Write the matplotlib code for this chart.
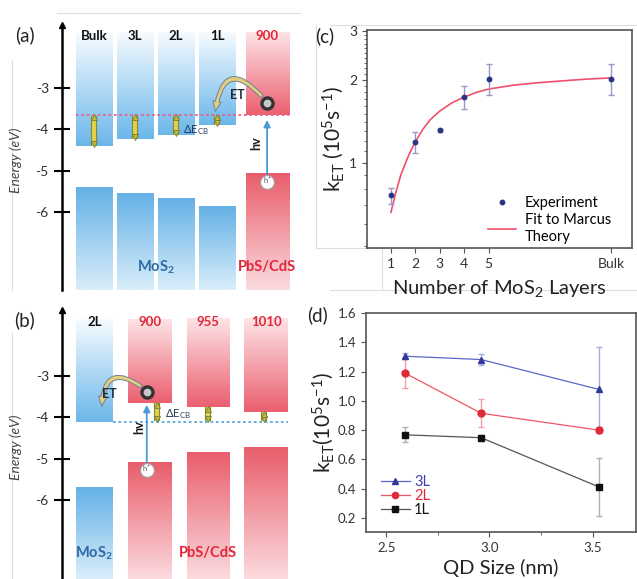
import numpy as np
import matplotlib
matplotlib.use('Agg')
import matplotlib.pyplot as plt
from matplotlib.colors import LinearSegmentedColormap
from matplotlib.patches import FancyArrowPatch
from matplotlib.lines import Line2D

plt.rcParams['font.family'] = ['Lato', 'DejaVu Sans']
plt.rcParams['mathtext.fontset'] = 'custom'
plt.rcParams['mathtext.rm'] = 'Lato'
plt.rcParams['mathtext.it'] = 'Lato:italic'
plt.rcParams['mathtext.bf'] = 'Lato:bold'
plt.rcParams['mathtext.default'] = 'regular'

# ---- band alignment data (eV) ----
a_labels = ['Bulk', '3L', '2L', '1L', '900']
a_pos = [0, 1, 2, 3, 4.22]
a_width = [0.88, 0.88, 0.88, 0.9, 1.05]
a_cb = [-4.40, -4.24, -4.14, -3.90, -3.65]
a_vb = [-5.42, -5.55, -5.68, -5.87, -5.07]
a_kind = ['mos2', 'mos2', 'mos2', 'mos2', 'qd']

b_labels = ['2L', '900', '955', '1010']
b_pos = [0, 1.35, 2.78, 4.2]
b_width = [0.9, 1.07, 1.05, 1.07]
b_cb = [-4.10, -3.65, -3.75, -3.88]
b_vb = [-5.70, -5.10, -4.85, -4.72]
b_kind = ['mos2', 'qd', 'qd', 'qd']

# ---- rate vs layer number ----
layers = [1, 2, 3, 4, 5, 10]
layer_ticks = ['1', '2', '3', '4', '5', 'Bulk']
k_layers = [0.76, 1.185, 1.31, 1.73, 2.02, 2.02]
k_layers_err = [0.05, 0.105, 0.02, 0.165, 0.26, 0.26]
fit_x = [1.0, 1.2, 1.4, 1.6, 1.8, 2.0, 2.3, 2.6, 3.0, 3.5, 4.0, 4.5, 5.0, 6.0, 7.0, 8.0, 9.0, 10.0]
fit_k = [0.66, 0.78, 0.90, 1.00, 1.10, 1.19, 1.32, 1.43, 1.54, 1.65, 1.73, 1.80, 1.85, 1.91, 1.95, 1.98, 2.01, 2.03]

# ---- rate vs QD size ----
qd_size = [2.59, 2.96, 3.53]
k_3L = [1.305, 1.282, 1.078]
k_3L_err = [0.02, 0.035, 0.29]
k_2L = [1.19, 0.915, 0.80]
k_2L_err = [0.10, 0.095, 0.02]
k_1L = [0.768, 0.748, 0.412]
k_1L_err = [0.05, 0.02, 0.20]

W, H = 637, 579
fig = plt.figure(figsize=(W / 100, H / 100), dpi=100)


def box(l, t, r, b):
    return [l / W, 1 - b / H, (r - l) / W, (b - t) / H]


BLUE_CB = ('#6cb7ea', '#f6fbff')
BLUE_VB = ('#d9edfa', '#64b1e6')
RED_CB = ('#eb6070', '#fde3e6')
RED_VB = ('#fbdade', '#e95e6c')
RED_TXT = '#e0283a'
BLUE_TXT = '#2c6aa8'


def grad_bar(ax, x, w, y0, y1, c_bottom, c_top):
    cmap = LinearSegmentedColormap.from_list('g', [c_bottom, c_top])
    g = np.linspace(0, 1, 64).reshape(-1, 1)
    ax.imshow(g, cmap=cmap, origin='lower', aspect='auto', interpolation='bilinear',
              extent=[x - w / 2, x + w / 2, y0, y1], zorder=1)


def dbl_arrow(ax, x, y0, y1):
    ax.plot([x, x], [y0, y1], color='#7d8a3a', lw=4.4, solid_capstyle='butt', zorder=4)
    ax.plot([x, x], [y0, y1], color='#e6d048', lw=2.8, solid_capstyle='butt', zorder=5)
    lo, hi = min(y0, y1), max(y0, y1)
    ax.plot(x, lo + 0.04, marker='v', ms=5, color='#c8b838', mec='#6f7f3a', mew=0.6, zorder=6)
    ax.plot(x, hi - 0.04, marker='^', ms=5, color='#c8b838', mec='#6f7f3a', mew=0.6, zorder=6)


def electron(ax, x, y):
    ax.plot(x, y, 'o', ms=8, mfc='#c8c8c8', mec='#333333', mew=2.4, zorder=8)


def hole(ax, x, y):
    ax.plot(x, y, 'o', ms=10, mfc='white', mec='#a0a0a0', mew=0.8, zorder=8)
    ax.text(x, y, 'h$^{+}$', fontsize=5.5, ha='center', va='center', color='#555', zorder=9)


def energy_axis(ax, ylim, xlim, label):
    ax.set_xlim(*xlim)
    ax.set_ylim(*ylim)
    for s in ['top', 'right', 'bottom']:
        ax.spines[s].set_visible(False)
    ax.spines['left'].set_linewidth(1.8)
    ax.set_xticks([])
    ax.set_yticks([-3, -4, -5, -6])
    ax.set_yticklabels(['-3', '-4', '-5', '-6'])
    ax.tick_params(axis='y', direction='inout', length=11, width=1.5, labelsize=10,
                   labelcolor='#333', pad=4)
    ax.plot(0, 1.0, marker='^', ms=5, color='k', transform=ax.transAxes, clip_on=False)
    ax.set_ylabel('Energy (eV)', style='italic', fontsize=10, color='#444')
    ax.yaxis.set_label_coords(-0.17, 0.49)
    ax.text(-0.16, ylim[1] - 0.25, label, fontsize=13.5, ha='center', va='center',
            color='#222', transform=ax.get_yaxis_transform())
    ax.patch.set_alpha(0)


def draw_bands(ax, labels, pos, widths, cb, vb, kind, ylim, bar_top):
    for lab, x, w, c, v, k in zip(labels, pos, widths, cb, vb, kind):
        if k == 'mos2':
            grad_bar(ax, x, w, c, bar_top, *BLUE_CB)
            grad_bar(ax, x, w, ylim[0], v, *BLUE_VB)
            col = '#111'
        else:
            grad_bar(ax, x, w, c, bar_top, *RED_CB)
            grad_bar(ax, x, w, ylim[0], v, *RED_VB)
            col = RED_TXT
        ax.text(x, bar_top - 0.08, lab, ha='center', va='center', fontsize=9.5,
                fontweight='bold', color=col, zorder=7)


ARC_STYLE = 'simple,head_width=6,head_length=7,tail_width=2.6'

# ================= (a) =================
ax_a = fig.add_axes(box(62, 25, 295, 290))
ylim_a = (-7.89, -1.48)
energy_axis(ax_a, ylim_a, (-0.78, 4.9), '(a)')
draw_bands(ax_a, a_labels, a_pos, a_width, a_cb, a_vb, a_kind, ylim_a, -1.66)
qd_cb = a_cb[-1]
ax_a.plot([a_pos[0] - a_width[0] / 2, a_pos[-1] + a_width[-1] / 2], [qd_cb, qd_cb],
          ls=(0, (1.5, 1.5)), color='#e8628c', lw=1.3, zorder=3)
for x, c in zip(a_pos[:4], a_cb[:4]):
    dbl_arrow(ax_a, x, qd_cb - 0.02, c)
ax_a.text(2.17, -4.02, 'ΔE$_{CB}$', fontsize=8, color='#2b3b5a', ha='left', va='center', zorder=7)
ex, ey = a_pos[-1], qd_cb + 0.29
electron(ax_a, ex, ey)
ax_a.add_patch(FancyArrowPatch((ex - 0.08, ey + 0.1), (a_pos[3] - 0.05, qd_cb + 0.02),
                               connectionstyle='arc3,rad=1.1', arrowstyle=ARC_STYLE,
                               fc='#e3d07c', ec='#6f7f9a', lw=0.7, zorder=7))
ax_a.text(3.5, -3.17, 'ET', fontsize=9, fontweight='bold', color='#1f2a3a', ha='center',
          va='center', zorder=8)
hy = a_vb[-1] - 0.2
hole(ax_a, ex, hy)
ax_a.annotate('', xy=(ex, qd_cb - 0.06), xytext=(ex, hy + 0.12),
              arrowprops=dict(arrowstyle='-|>,head_length=0.4,head_width=0.2',
                              color='#4a9ad8', lw=1.3), zorder=7)
ax_a.text(3.95, -4.33, 'hv', rotation=90, fontsize=9, fontweight='bold', ha='center',
          va='center', color='#1a1a1a', zorder=8)
ax_a.text(1.5, -7.33, 'MoS$_2$', fontsize=10.5, fontweight='bold', color=BLUE_TXT,
          ha='center', va='center', zorder=8)
ax_a.text(a_pos[-1], -7.33, 'PbS/CdS', fontsize=10.5, fontweight='bold', color=RED_TXT,
          ha='center', va='center', zorder=8)

# ================= (b) =================
ax_b = fig.add_axes(box(62, 310, 295, 579))
ylim_b = (-7.91, -1.40)
energy_axis(ax_b, ylim_b, (-0.79, 4.9), '(b)')
draw_bands(ax_b, b_labels, b_pos, b_width, b_cb, b_vb, b_kind, ylim_b, -1.62)
mos_cb = b_cb[0]
ax_b.plot([b_pos[0] + b_width[0] / 2, b_pos[-1] + b_width[-1] / 2], [mos_cb, mos_cb],
          ls=(0, (1.5, 1.5)), color='#5aaad8', lw=1.3, zorder=3)
for x, c in zip([b_pos[1] + 0.18, b_pos[2], b_pos[3] - 0.05], b_cb[1:]):
    dbl_arrow(ax_b, x, mos_cb + 0.02, c)
ax_b.text(1.72, -3.93, 'ΔE$_{CB}$', fontsize=8, color='#2b3b5a', ha='left', va='center', zorder=7)
ex, ey = b_pos[1] - 0.07, b_cb[1] + 0.26
electron(ax_b, ex, ey)
ax_b.add_patch(FancyArrowPatch((ex - 0.08, ey + 0.1), (b_pos[0] + 0.18, b_cb[0] + 0.3),
                               connectionstyle='arc3,rad=0.95', arrowstyle=ARC_STYLE,
                               fc='#e3d07c', ec='#6f7f9a', lw=0.7, zorder=7))
ax_b.text(0.37, -3.43, 'ET', fontsize=9, fontweight='bold', color='#1f2a3a', ha='center',
          va='center', zorder=8)
hy = b_vb[1] - 0.17
hole(ax_b, ex, hy)
ax_b.annotate('', xy=(ex, b_cb[1] + 0.02), xytext=(ex, hy + 0.12),
              arrowprops=dict(arrowstyle='-|>,head_length=0.4,head_width=0.2',
                              color='#4a9ad8', lw=1.3), zorder=7)
ax_b.text(1.1, -4.23, 'hv', rotation=90, fontsize=9, fontweight='bold', ha='center',
          va='center', color='#1a1a1a', zorder=8)
ax_b.text(b_pos[0], -7.28, 'MoS$_2$', fontsize=10.5, fontweight='bold', color=BLUE_TXT,
          ha='center', va='center', zorder=8)
ax_b.text(b_pos[2], -7.28, 'PbS/CdS', fontsize=10.5, fontweight='bold', color=RED_TXT,
          ha='center', va='center', zorder=8)

# ================= (c) =================
ax_c = fig.add_axes(box(367, 30, 632, 248))
ax_c.set_yscale('log')
ax_c.plot(fit_x, fit_k, color='#f0506a', lw=1.2, zorder=2)
ax_c.errorbar(layers, k_layers, yerr=k_layers_err, fmt='o', ms=3.2, color='#2b3585',
              ecolor='#9a98c8', elinewidth=1, capsize=2, zorder=3)
ax_c.set_xlim(0.02, 10.86)
ax_c.set_ylim(0.49, 3.03)
ax_c.set_xticks(layers)
ax_c.set_xticklabels(layer_ticks)
ax_c.set_yticks([1, 2, 3])
ax_c.set_yticklabels(['1', '2', '3'])
ax_c.set_yticks(np.round(np.arange(0.5, 3.0, 0.1), 2), minor=True)
ax_c.yaxis.set_minor_formatter(plt.NullFormatter())
ax_c.tick_params(which='both', direction='out', labelsize=10, labelcolor='#333', color='#555')
ax_c.tick_params(which='minor', length=2)
for s in ax_c.spines.values():
    s.set_color('#555')
    s.set_linewidth(1.2)
ax_c.set_ylabel('k$_{ET}$ (10$^5$s$^{-1}$)', fontsize=15, color='#222', labelpad=2)
ax_c.set_xlabel('Number of MoS$_2$ Layers', fontsize=14.5, color='#222', labelpad=6)
c_handles = [Line2D([], [], ls='none', marker='o', ms=3.2, color='#2b3585'),
             Line2D([], [], color='#f0506a', lw=1.2)]
ax_c.legend(c_handles, ['Experiment', 'Fit to Marcus\nTheory'], loc='lower right',
            bbox_to_anchor=(0.97, -0.04), frameon=False, fontsize=10.5, handlelength=1.9,
            handletextpad=0.6, labelspacing=0.25)
ax_c.text(-0.16, 0.97, '(c)', fontsize=13.5, transform=ax_c.transAxes, ha='center', va='center',
          color='#222')

# ================= (d) =================
ax_d = fig.add_axes(box(366, 313, 636, 532))
series_d = [(k_3L, k_3L_err, '3L', '#5a66c8', '^', '#2f3a9a', '#a6aadc', '#3a44a8'),
            (k_2L, k_2L_err, '2L', '#f05464', 'o', '#e02a3a', '#f2a0a8', '#e0283a'),
            (k_1L, k_1L_err, '1L', '#555555', 's', '#111111', '#b0b0b0', '#111111')]
d_handles = []
for vals, err, lab, lc, mk, mc, ec, _ in series_d:
    ax_d.errorbar(qd_size, vals, yerr=err, color=lc, marker=mk, ms=5 if mk != 's' else 4.5,
                  mfc=mc, mec=mc, lw=0.9, ecolor=ec, elinewidth=1, capsize=2)
    d_handles.append(Line2D([], [], color=lc, lw=0.9, marker=mk, ms=4.5, mfc=mc, mec=mc))
ax_d.set_xlim(2.402, 3.71)
ax_d.set_ylim(0.104, 1.6)
ax_d.set_xticks([2.5, 3.0, 3.5])
ax_d.set_xticks([2.75, 3.25], minor=True)
ax_d.set_yticks([0.2, 0.4, 0.6, 0.8, 1.0, 1.2, 1.4, 1.6])
ax_d.tick_params(which='both', direction='out', labelsize=9.5, labelcolor='#333', color='#555')
ax_d.tick_params(which='minor', length=2)
for s in ax_d.spines.values():
    s.set_color('#555')
    s.set_linewidth(1.2)
ax_d.set_ylabel('k$_{ET}$(10$^5$s$^{-1}$)', fontsize=15, color='#222', labelpad=1)
ax_d.set_xlabel('QD Size (nm)', fontsize=14.5, color='#222', labelpad=4)
leg = ax_d.legend(d_handles, [s[2] for s in series_d], loc='lower left',
                  bbox_to_anchor=(0.0, 0.0), frameon=False, fontsize=10.5,
                  handlelength=2.0, handletextpad=0.3, labelspacing=0.0, borderpad=0.5)
for txt, s in zip(leg.get_texts(), series_d):
    txt.set_color(s[7])
ax_d.text(-0.18, 0.99, '(d)', fontsize=13.5, transform=ax_d.transAxes, ha='center', va='center',
          color='#222')

# faint page borders around the panels
for xs, ys in [([57, 300], [13, 13]), ([12, 12], [60, 290]), ([12, 12], [333, 579]),
               ([316, 316], [25, 248]), ([316, 382], [248, 248]), ([330, 637], [25, 25]),
               ([382, 382], [248, 290]), ([330, 637], [290, 290])]:
    fig.add_artist(Line2D([x / W for x in xs], [1 - y / H for y in ys], color='#dddddd',
                          lw=0.8, zorder=0))

fig.savefig('out.png', dpi=100)
